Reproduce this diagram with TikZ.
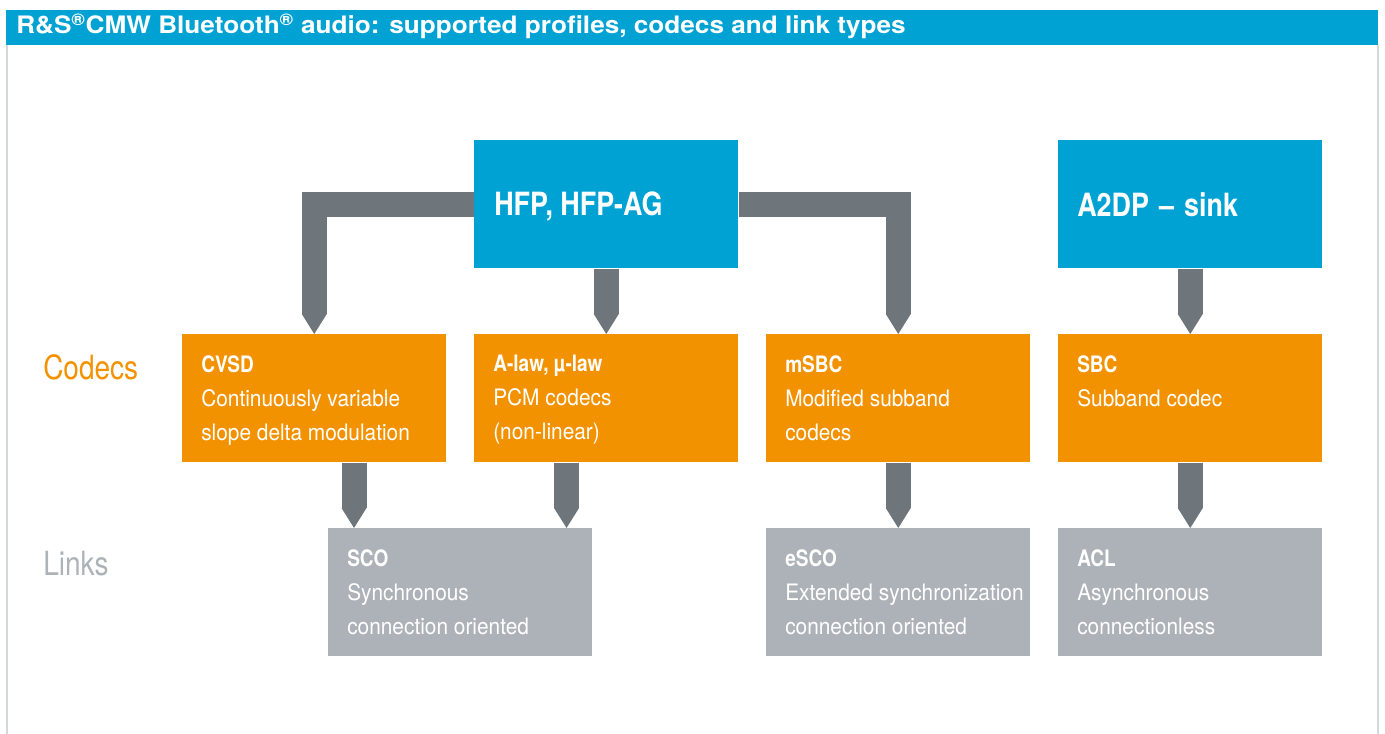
\documentclass[tikz,border=0pt]{standalone}
\usepackage{fontspec}
\setmainfont{TeX Gyre Heros}[FakeStretch=0.92]
\newfontfamily\condfont{TeX Gyre Heros}[FakeStretch=0.84]
\newfontfamily\widefont{TeX Gyre Heros}[FakeStretch=1.09]
\usetikzlibrary{arrows.meta,positioning}

\definecolor{rsblue}{RGB}{0,162,211}
\definecolor{rsorange}{RGB}{243,146,0}
\definecolor{rsgrey}{RGB}{172,178,183}
\definecolor{rsdark}{RGB}{110,118,124}
\definecolor{rsframe}{RGB}{212,216,219}

% bold first line inside a box
\newcommand{\boxhead}[1]{{\condfont\bfseries #1}}

\begin{document}
\begin{tikzpicture}[x=0.75pt,y=-0.75pt,
    box/.style={minimum width=198pt, minimum height=96pt, inner sep=0pt, anchor=north west},
    profile/.style={box, fill=rsblue},
    codec/.style={box, fill=rsorange},
    link/.style={box, fill=rsgrey},
    boxtext/.style={inner sep=0pt, text=white, align=left, font=\fontsize{17}{25.5}\selectfont},
    proftext/.style={boxtext, font=\condfont\bfseries\fontsize{24}{28}\selectfont},
    rowlabel/.style={inner sep=0pt, anchor=base west, font=\condfont\fontsize{25}{30}\selectfont},
    conn/.style={draw=rsdark, line width=18.75pt, line join=miter,
        -{Triangle[length=15pt,width=18.75pt,line width=0pt]}}]
    \useasboundingbox (0,0) rectangle (1385,734);

    % Frame and title bar
    \draw[rsframe, line width=1.5pt] (7,45) -- (7,734);
    \draw[rsframe, line width=1.5pt] (1378,45) -- (1378,734);
    \fill[rsblue] (6,10) rectangle (1378,45);
    \node[anchor=base west, inner sep=0pt, text=white, font=\widefont\bfseries\fontsize{18}{20}\selectfont] (title) at (16,34)
        {R\&S\textsuperscript{®}CMW Bluetooth\textsuperscript{®} audio: supported profiles, codecs and link types};

    % Profiles
    \node[profile] (hfp) at (474,140) {};
    \node[profile] (a2dp) at (1058,140) {};
    \node[proftext, below right=39pt and 15pt of hfp.north west] (hfp-t) {HFP, HFP-AG};
    \node[proftext, below right=39pt and 14.25pt of a2dp.north west] (a2dp-t) {A2DP\hspace{2pt} – \hspace{2pt}sink};

    % Codecs
    \node[codec] (cvsd) at (182,334) {};
    \node[codec] (alaw) at (474,334) {};
    \node[codec] (msbc) at (766,334) {};
    \node[codec] (sbc) at (1058,334) {};
    \node[boxtext, below right=15.75pt and 14.25pt of cvsd.north west] (cvsd-t)
        {\boxhead{CVSD}\\Continuously variable\\slope delta modulation};
    \node[boxtext, below right=15.75pt and 14.25pt of alaw.north west] (alaw-t)
        {\boxhead{A-law, µ-law}\\PCM codecs\\(non-linear)};
    \node[boxtext, below right=15.75pt and 14.25pt of msbc.north west] (msbc-t)
        {\boxhead{mSBC}\\Modified subband\\codecs};
    \node[boxtext, below right=15.75pt and 14.25pt of sbc.north west] (sbc-t)
        {\boxhead{SBC}\\Subband codec};

    % Links
    \node[link] (sco) at (328,528) {};
    \node[link] (esco) at (766,528) {};
    \node[link] (acl) at (1058,528) {};
    \node[boxtext, below right=15.75pt and 14.25pt of sco.north west] (sco-t)
        {\boxhead{SCO}\\Synchronous\\connection oriented};
    \node[boxtext, below right=15.75pt and 14.25pt of esco.north west] (esco-t)
        {\boxhead{eSCO}\\Extended synchronization\\connection oriented};
    \node[boxtext, below right=15.75pt and 14.25pt of acl.north west] (acl-t)
        {\boxhead{ACL}\\Asynchronous\\connectionless};

    % Row labels
    \node[rowlabel, text=rsorange] (codecs) at (43,379) {Codecs};
    \node[rowlabel, text=rsgrey] (links) at (43,575) {Links};

    % Connectors
    \coordinate (sco-in1) at ([xshift=19.5pt]sco.north west);
    \coordinate (sco-in2) at ([xshift=-19.5pt]sco.north east);
    \draw[conn] (hfp.west) -| (cvsd.north);
    \draw[conn] (hfp) -- (alaw);
    \draw[conn] (hfp.east) -| (msbc.north);
    \draw[conn] (a2dp) -- (sbc);
    \draw[conn] (cvsd.south -| sco-in1) -- (sco-in1);
    \draw[conn] (alaw.south -| sco-in2) -- (sco-in2);
    \draw[conn] (msbc) -- (esco);
    \draw[conn] (sbc) -- (acl);
\end{tikzpicture}
\end{document}
